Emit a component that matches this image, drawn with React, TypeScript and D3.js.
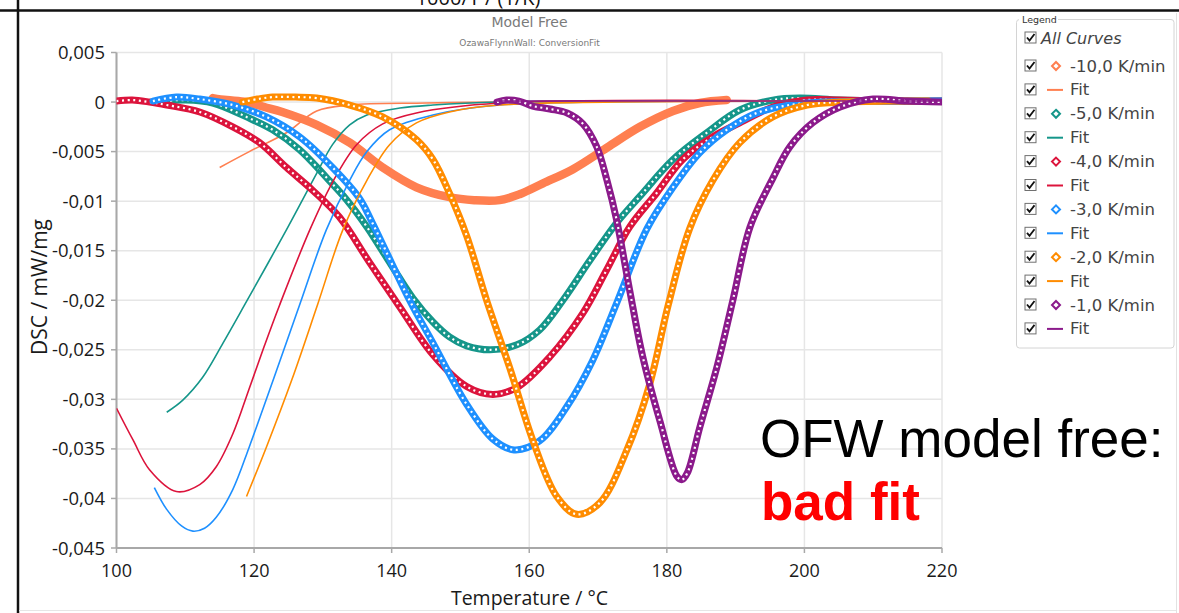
import React from 'react';
import * as d3 from 'd3';

type Pt = [number, number];

// ---------- data (Temperature °C, DSC mW/mg) ----------
const xTicks = [100, 120, 140, 160, 180, 200, 220];
const yTicks = [0.005, 0, -0.005, -0.01, -0.015, -0.02, -0.025, -0.03, -0.035, -0.04, -0.045];
const yTickLabels = ['0,005', '0', '-0,005', '-0,01', '-0,015', '-0,02', '-0,025', '-0,03', '-0,035', '-0,04', '-0,045'];

const neg10Data: Pt[] = [[114.0, 0.0004], [116, 0.0002], [118.9, 0.0], [121.5, -0.0005], [124.1, -0.001], [129.1, -0.0023], [133.9, -0.0041], [138.7, -0.0066], [143.6, -0.0086], [148.4, -0.0096], [152, -0.0099], [155.7, -0.0099], [158.6, -0.0093], [162, -0.0082], [166.3, -0.0068], [171.3, -0.0046], [176.1, -0.0025], [180.9, -0.0009], [184.8, -0.0001], [188.7, 0.0002]];
const neg10Fit: Pt[] = [[115, -0.0066], [119.3, -0.005], [124.7, -0.0031], [129.1, -0.0009], [133.9, -0.0003], [145, -0.0001], [155.7, 0], [200, 0.0001]];

const neg5Data: Pt[] = [[107, 0.0001], [110, 0.0002], [114, -0.0001], [118.9, -0.0015], [122.7, -0.0028], [126.6, -0.0048], [130.5, -0.0076], [133.5, -0.0099], [136.4, -0.0126], [140, -0.0165], [143.1, -0.0198], [146, -0.0222], [148.4, -0.0237], [150.9, -0.0246], [154.3, -0.025], [158.2, -0.0245], [161.5, -0.023], [164.9, -0.02], [168.8, -0.016], [172.7, -0.0122], [176.1, -0.0095], [180.9, -0.0058], [185.8, -0.0031], [190.6, -0.0008], [195.4, 0.0002], [199.3, 0.0004], [205, 0.0002], [212, 0.0001], [220, 0.0001]];
const neg5Fit: Pt[] = [[107.3, -0.0313], [109.6, -0.0301], [112.5, -0.0278], [115.5, -0.0243], [118.6, -0.0205], [124.7, -0.0129], [129.1, -0.0072], [131.4, -0.0043], [133.9, -0.0023], [136.4, -0.0013], [141.2, -0.0006], [146, -0.0003], [155.7, 0], [200, 0.0001]];

const neg4Data: Pt[] = [[100, 0.0001], [102.3, 0.0002], [104.8, 0.0], [107.3, -0.0003], [112.1, -0.001], [116.9, -0.0025], [120.8, -0.0041], [124.7, -0.0066], [128.5, -0.0089], [132.4, -0.0116], [136.8, -0.0162], [141.2, -0.0207], [146, -0.0255], [150.9, -0.0287], [154.7, -0.0295], [158.2, -0.0288], [163, -0.0257], [167.8, -0.0213], [171.2, -0.017], [174.6, -0.0126], [178.5, -0.0092], [182.3, -0.0058], [186.7, -0.0035], [190.6, -0.0021], [195.4, -0.0005], [200.4, 0.0002], [205, 0.0002], [212, 0.0001], [220, 0.0001]];
const neg4Fit: Pt[] = [[100, -0.0309], [102.4, -0.0341], [104.8, -0.0371], [108.7, -0.0393], [112.1, -0.0386], [114.5, -0.0368], [116.9, -0.0335], [119.3, -0.0289], [121.5, -0.0246], [123.7, -0.0205], [128.1, -0.0129], [131.4, -0.0081], [134.9, -0.0043], [138.7, -0.0022], [143.6, -0.0011], [155.7, -0.0001], [200, 0.0001]];

const neg3Data: Pt[] = [[105.3, 0.0001], [108.7, 0.0005], [112.1, 0.0003], [116.9, -0.0003], [121.8, -0.0015], [126.6, -0.0035], [131.4, -0.0066], [135.3, -0.0097], [137.2, -0.0122], [142.6, -0.02], [146, -0.0243], [150.9, -0.0305], [154.7, -0.034], [157.8, -0.0351], [161.5, -0.0342], [165.5, -0.0307], [169.2, -0.0261], [172.7, -0.0203], [177.1, -0.0128], [180.9, -0.0086], [184.8, -0.0051], [188.7, -0.0028], [193.1, -0.0011], [197.9, -0.0003], [202.7, 0], [210, 0.0001], [220, 0.0001]];
const neg3Fit: Pt[] = [[105.5, -0.0389], [107.3, -0.0411], [109.5, -0.0428], [111.1, -0.0433], [112.8, -0.043], [114.5, -0.0419], [116.9, -0.0391], [119.3, -0.0348], [122.7, -0.0282], [126.6, -0.0205], [130.5, -0.0129], [133.9, -0.0079], [136.4, -0.005], [139.7, -0.0028], [146, -0.0013], [155.7, -0.0003], [200, 0.0001]];

const neg2Data: Pt[] = [[118.3, 0.0], [120.5, 0.0003], [122.7, 0.0005], [126, 0.0005], [129.1, 0.0004], [133.9, -0.0003], [138.7, -0.0015], [143.6, -0.0038], [146, -0.0058], [148.4, -0.0092], [150.9, -0.0135], [153.8, -0.02], [157.2, -0.0269], [160.5, -0.0341], [164, -0.0398], [166.9, -0.0416], [170.3, -0.0404], [174.2, -0.0351], [177.5, -0.0285], [180.2, -0.0205], [183.3, -0.0128], [186.7, -0.0079], [190.6, -0.0041], [195.4, -0.0015], [200.4, -0.0003], [205.2, 0], [212, 0.0001], [218, 0.0001]];
const neg2Fit: Pt[] = [[118.9, -0.0398], [121.8, -0.0348], [125.5, -0.028], [129.2, -0.0205], [132.9, -0.0129], [136.4, -0.0079], [139.7, -0.0043], [143.6, -0.0021], [148.4, -0.001], [155.7, -0.0003], [200, 0.0001]];

const neg1Data: Pt[] = [[155.3, 0], [156.7, 0.0002], [158.5, 0.0001], [160.5, -0.0004], [163, -0.0007], [165.5, -0.0011], [167.8, -0.0022], [169.8, -0.0045], [171.3, -0.0079], [172.7, -0.0119], [174.6, -0.019], [176.5, -0.0257], [179, -0.0322], [181.5, -0.0378], [182.2, -0.0381], [183, -0.0374], [184.8, -0.0328], [187.3, -0.0267], [189.6, -0.02], [192.1, -0.0126], [195.4, -0.0077], [197.9, -0.0045], [201.2, -0.0021], [205.2, -0.0005], [210, 0.0003], [214.9, 0.0001], [220, 0.0]];
const neg1Fit: Pt[] = [[155, 0.0001], [220, 0.0001]];

const seriesLabels = ['-10,0 K/min', '-5,0 K/min', '-4,0 K/min', '-3,0 K/min', '-2,0 K/min', '-1,0 K/min'];
const seriesColors = ['#FF7F50', '#15968A', '#DC143C', '#1E90FF', '#FF8C00', '#8B1A8B'];
const seriesData = [neg10Data, neg5Data, neg4Data, neg3Data, neg2Data, neg1Data];
const seriesFits = [neg10Fit, neg5Fit, neg4Fit, neg3Fit, neg2Fit, neg1Fit];

const W = 1179;
const H = 613;

export default function App() {
  const x = d3.scaleLinear().domain([100, 220]).range([116.5, 942]);
  const y = d3.scaleLinear().domain([-0.045, 0.005]).range([548, 52.5]);
  const line = d3
    .line<Pt>()
    .x((d) => x(d[0]))
    .y((d) => y(d[1]))
    .curve(d3.curveCatmullRom.alpha(0.5));

  const tickFont = "'Open Sans', sans-serif";
  const uiFont = "'DejaVu Sans', Verdana, sans-serif";

  const legendRows: { label: string; color: string; kind: 'data' | 'fit' }[] = [];
  seriesLabels.forEach((l, i) => {
    legendRows.push({ label: l, color: seriesColors[i], kind: 'data' });
    legendRows.push({ label: 'Fit', color: seriesColors[i], kind: 'fit' });
  });

  const checkbox = (cx: number, cy: number, key: string) => (
    <g key={key}>
      <rect x={cx} y={cy} width={11} height={11} fill="#fff" stroke="#707070" strokeWidth={1} />
      <path
        d={`M${cx + 2},${cy + 5.5} L${cx + 4.5},${cy + 8.5} L${cx + 9.5},${cy + 2}`}
        fill="none"
        stroke="#111"
        strokeWidth={1.8}
      />
    </g>
  );

  return (
    <svg
      width={W}
      height={H}
      style={{ position: 'absolute', left: 0, top: 0, background: '#fff' }}
      xmlns="http://www.w3.org/2000/svg"
    >
      <defs>
        <clipPath id="plotClip">
          <rect x={116.5} y={40} width={942 - 116.5} height={548 - 40} />
        </clipPath>
      </defs>
      <rect x={0} y={0} width={W} height={H} fill="#fff" />

      {/* frame (header text is cut by the top edge, as in the source) */}
      <text x={478} y={5} textAnchor="middle" fontFamily={tickFont} fontSize={20} fill="#111">
        1000/T / (1/K)
      </text>
      <line x1={0} x2={W} y1={10.5} y2={10.5} stroke="#111" strokeWidth={2.5} />
      <line x1={18} x2={18} y1={0} y2={H} stroke="#111" strokeWidth={2.5} />
      <line x1={1176.5} x2={1176.5} y1={13} y2={H} stroke="#e2e2e2" strokeWidth={1} />
      <line x1={19} x2={1176} y1={610.5} y2={610.5} stroke="#e6e6e6" strokeWidth={1} />

      {/* titles */}
      <text x={529.5} y={27} textAnchor="middle" fontFamily={uiFont} fontSize={14} fill="#7a7a7a">
        Model Free
      </text>
      <text x={529.5} y={46} textAnchor="middle" fontFamily={uiFont} fontSize={9} fill="#7a7a7a">
        OzawaFlynnWall: ConversionFit
      </text>

      {/* grid */}
      {yTicks.map((t) => (
        <line key={'gy' + t} x1={116.5} x2={942} y1={y(t)} y2={y(t)} stroke="#e6e6e6" strokeWidth={1.5} />
      ))}
      {xTicks.map((t) => (
        <line key={'gx' + t} x1={x(t)} x2={x(t)} y1={52.5} y2={548} stroke="#e6e6e6" strokeWidth={1.5} />
      ))}

      {/* axes */}
      <line x1={116.5} x2={116.5} y1={52.5} y2={548} stroke="#a8a8a8" strokeWidth={2} />
      <line x1={116.5} x2={942} y1={548} y2={548} stroke="#a8a8a8" strokeWidth={2} />
      {yTicks.map((t, i) => (
        <g key={'ty' + t}>
          <line x1={111} x2={116.5} y1={y(t)} y2={y(t)} stroke="#a8a8a8" strokeWidth={1.5} />
          <text x={105} y={y(t) + 6.5} textAnchor="end" fontFamily={tickFont} fontSize={18.5} fill="#1a1a1a">
            {yTickLabels[i]}
          </text>
        </g>
      ))}
      {xTicks.map((t) => (
        <g key={'tx' + t}>
          <line x1={x(t)} x2={x(t)} y1={548} y2={553} stroke="#a8a8a8" strokeWidth={1.5} />
          <text x={x(t)} y={577} textAnchor="middle" fontFamily={tickFont} fontSize={18} fill="#1a1a1a">
            {t}
          </text>
        </g>
      ))}
      <text x={529.5} y={605} textAnchor="middle" fontFamily={tickFont} fontSize={19.5} fill="#1a1a1a">
        Temperature / °C
      </text>
      <text
        transform="translate(47,287) rotate(-90)"
        textAnchor="middle"
        fontFamily={tickFont}
        fontSize={21}
        fill="#1a1a1a"
      >
        DSC / mW/mg
      </text>

      {/* curves */}
      <g clipPath="url(#plotClip)">
        {seriesData.map((data, i) => {
          const c = seriesColors[i];
          const d = line(data) || '';
          const f = line(seriesFits[i]) || '';
          return (
            <g key={'s' + i}>
              {i === 0 ? (
                <path d={d} fill="none" stroke={c} strokeWidth={8.5} strokeLinejoin="round" strokeLinecap="round" />
              ) : (
                <>
                  <path d={d} fill="none" stroke={c} strokeWidth={7} strokeLinejoin="round" strokeLinecap="round" />
                  <path
                    d={d}
                    fill="none"
                    stroke="#fff"
                    strokeWidth={2.2}
                    strokeDasharray="2 3.6"
                    strokeLinejoin="round"
                  />
                </>
              )}
              <path d={f} fill="none" stroke={c} strokeWidth={1.6} strokeLinejoin="round" />
            </g>
          );
        })}
      </g>

      {/* annotation */}
      <text x={760} y={457} fontFamily="'Liberation Sans', Arial, sans-serif" fontSize={53} fill="#000">
        OFW model free:
      </text>
      <text
        x={761}
        y={520}
        fontFamily="'Liberation Sans', Arial, sans-serif"
        fontSize={53}
        fontWeight="bold"
        fill="#ff0000"
      >
        bad fit
      </text>

      {/* legend */}
      <rect x={1016.5} y={19.5} width={157.5} height={328.5} rx={3} fill="#fff" stroke="#d4d4d4" strokeWidth={1} />
      <rect x={1019} y={13} width={39} height={12} fill="#fff" />
      <text x={1022} y={22.5} fontFamily={uiFont} fontSize={9.5} fill="#333">
        Legend
      </text>
      {checkbox(1025, 32, 'cb-all')}
      <text x={1041} y={44} fontFamily={uiFont} fontStyle="italic" fontSize={16} fill="#444">
        All Curves
      </text>
      {legendRows.map((r, i) => {
        const cy = 66 + i * 23.9;
        return (
          <g key={'lg' + i}>
            {checkbox(1025, cy - 6, 'cb' + i)}
            {r.kind === 'data' ? (
              <path
                d={`M1056,${cy - 4} L1060,${cy} L1056,${cy + 4} L1052,${cy} Z`}
                fill="#fff"
                stroke={r.color}
                strokeWidth={2}
              />
            ) : (
              <line x1={1047} x2={1063} y1={cy} y2={cy} stroke={r.color} strokeWidth={2} />
            )}
            <text x={1070} y={cy + 5.5} fontFamily={uiFont} fontSize={16.5} fill="#444">
              {r.label}
            </text>
          </g>
        );
      })}
    </svg>
  );
}
